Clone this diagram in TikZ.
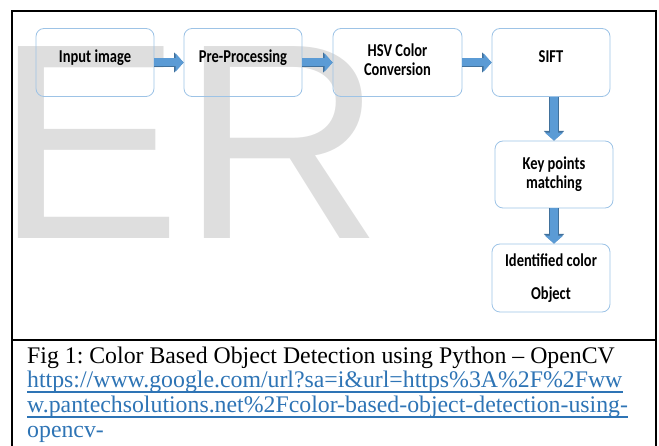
\documentclass[tikz,border=0pt]{standalone}
\usepackage{fontspec}
\usepackage{graphicx}
\setmainfont{Liberation Serif}
\newfontfamily\dobozfont{Carlito}
\newfontfamily\vizjelfont{Liberation Sans}
\usetikzlibrary{arrows.meta,positioning}
\definecolor{dobozvonal}{RGB}{157,195,230}
\definecolor{nyilkek}{RGB}{91,155,213}
\definecolor{nyilszel}{RGB}{65,113,156}
\definecolor{linkkek}{RGB}{46,116,181}
\definecolor{vizjel}{RGB}{222,222,222}
\newcommand{\sor}[1]{\scalebox{1}[1.25]{#1}}
\tikzset{
  doboz/.style={draw=dobozvonal,line width=0.8pt,rounded corners=8pt,align=center,inner sep=0pt,
                font=\dobozfont\bfseries\fontsize{14.5}{21}\selectfont,
                minimum width=118pt,minimum height=68pt},
  egysor/.style={text height=11pt,text depth=11pt},
  nyilszeg/.style={draw=nyilszel,line width=9.4pt,-{Triangle[width=19.6pt,length=9.6pt]}},
  nyil/.style={draw=nyilkek,line width=8pt,-{Triangle[width=18pt,length=8pt]}},
  keret/.style={line width=2pt},
  cimke/.style={anchor=base west,inner sep=0pt,font=\fontsize{23.8}{24}\selectfont\frenchspacing},
  link/.style={cimke,text=linkkek},
  alahuz/.style={draw=linkkek,line width=1.4pt},
}
\begin{document}
\begin{tikzpicture}[x=1pt,y=-1pt]
  \useasboundingbox (0,0) rectangle (659,446);
  \node[anchor=base west,inner sep=0pt,text=vizjel,font=\vizjelfont\fontsize{279}{279}\selectfont]
    (V) at (-5,239) {ER};
  \draw[keret] (12,446) -- (12,11) -- (656,11) -- (656,446);
  \draw[keret] (12,340) -- (656,340);

  \node[doboz,egysor] (I) at (95,62.5) {\sor{Input image}};
  \node[doboz,egysor] (P) at (243,62.5) {\sor{Pre-Processing}};
  \node[doboz,minimum width=129pt,text depth=6pt] (H) at (397.5,62.5) {\sor{HSV Color}\\[-2pt]\sor{Conversion}};
  \node[doboz,egysor] (S) at (551,62.5) {\sor{SIFT}};
  \node[doboz,minimum height=67pt] (K) at (554,174.5) {\sor{Key points}\\[-2pt]\sor{matching}};
  \node[doboz] (O) at (551,278) {\sor{Identified color}\\[12pt]\sor{Object}};

  \foreach \a/\b in {I/P,P/H,H/S} {
    \draw[nyilszeg] (\a) -- (\b);
    \draw[nyil] (\a) -- (\b);
  }
  \draw[nyilszeg] (K.north |- S.south) -- (K.north);
  \draw[nyil] (K.north |- S.south) -- (K.north);
  \draw[nyilszeg] (K.south) -- (K.south |- O.north);
  \draw[nyil] (K.south) -- (K.south |- O.north);

  \node[cimke] (F) at (27,364) {Fig 1: Color Based Object Detection using Python – OpenCV};
  \node[link] (U1) at (27,388) {https://www.google.com/url?sa=i\&url=https\%3A\%2F\%2Fww};
  \node[link] (U2) at (27,413) {w.pantechsolutions.net\%2Fcolor-based-object-detection-using-};
  \node[link] (U3) at (27,437) {opencv-};
  \draw[alahuz] ([yshift=-4pt]U1.base west) -- ([yshift=-4pt]U1.base east);
  \draw[alahuz] ([yshift=-4pt]U2.base west) -- ([yshift=-4pt]U2.base east);
\end{tikzpicture}
\end{document}
